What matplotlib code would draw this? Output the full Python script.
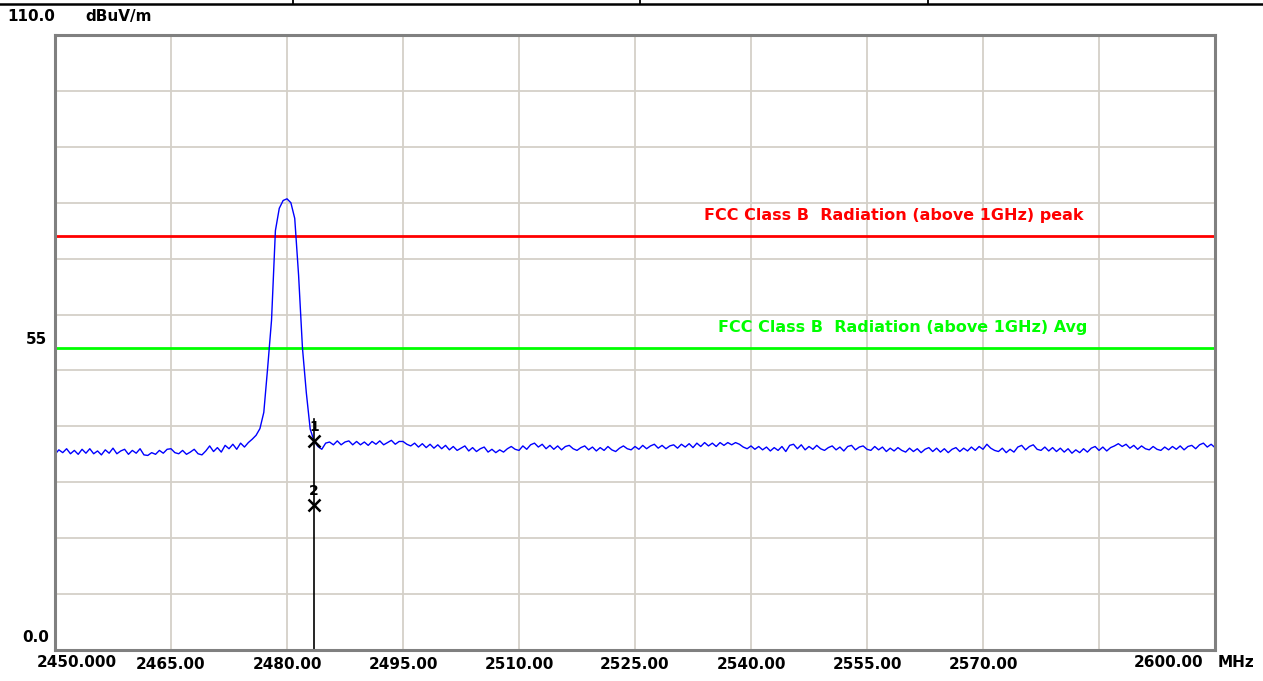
import numpy as np
import matplotlib
matplotlib.use("Agg")
import matplotlib.pyplot as plt
from matplotlib.lines import Line2D

plt.rcParams['font.family'] = ['DejaVu Sans']
plt.rcParams['font.weight'] = 'bold'

# sweep settings (MHz)
freq_start = 2450.0
freq_stop = 2600.0
freq_step = 0.5

# measured trace, dBuV/m, one value per sweep point
trace_left = [
    35.0, 35.8, 35.3, 36.0, 35.1, 35.7, 35.0, 35.9, 35.2, 36.0, 35.1, 35.6, 34.9, 35.8, 35.2, 36.1, 35.1, 35.6, 35.9, 35.0,
    35.7, 35.2, 36.0, 34.9, 34.8, 35.3, 35.0, 35.7, 35.2, 35.9, 36.0, 35.3, 35.1, 35.7, 35.0, 35.4, 35.9, 35.1, 34.9, 35.6,
    36.5, 35.5, 36.2, 35.4, 36.6, 36.0, 36.8, 35.9, 37.0, 36.3, 37.1, 37.7, 38.4,
]
trace_peak = [
    39.6, 42.5, 50.5, 59.0, 75.0, 79.0, 80.4, 80.7, 80.0, 77.2, 67.0, 54.0, 46.0, 39.5, 37.4,
]
trace_right = [
    36.4, 35.9, 37.0, 37.2, 36.7, 37.4, 36.7, 37.2, 37.4, 36.7, 37.3, 36.7,
    37.2, 36.6, 37.3, 36.8, 37.4, 36.7, 37.1, 37.5, 36.8, 37.3, 37.3, 36.8, 36.5, 37.0, 36.3, 36.9, 36.2, 36.8, 36.1, 36.7,
    36.0, 36.6, 35.8, 36.4, 35.7, 36.1, 36.5, 35.6, 36.2, 35.5, 36.0, 36.3, 35.4, 35.9, 35.3, 35.8, 35.4, 36.0, 36.4, 35.9,
    35.7, 36.5, 35.9, 36.7, 37.0, 36.3, 36.8, 36.0, 36.6, 35.9, 36.5, 35.8, 36.4, 36.6, 36.0, 35.7, 36.2, 36.5, 35.8, 36.3,
    35.6, 36.2, 35.7, 36.4, 35.8, 35.5, 36.1, 36.5, 36.0, 35.8, 36.4, 35.9, 36.6, 36.0, 36.5, 36.8, 36.1, 36.6, 36.0, 36.5,
    36.7, 36.1, 36.8, 36.3, 36.9, 36.2, 37.0, 36.4, 37.1, 36.5, 37.0, 36.4, 37.1, 36.6, 37.1, 36.7, 37.1, 36.8, 36.3, 36.0,
    36.5, 35.9, 36.4, 35.8, 36.3, 35.6, 36.2, 35.7, 36.4, 35.5, 36.6, 36.8, 36.0, 36.7, 35.8, 36.4, 35.9, 36.6, 36.0, 35.7,
    36.2, 36.5, 35.8, 36.3, 35.6, 36.4, 36.6, 35.8, 36.3, 36.5, 35.9, 35.7, 36.4, 35.8, 36.3, 35.5, 36.1, 35.6, 36.2, 35.7,
    35.4, 36.1, 35.5, 36.0, 35.3, 35.9, 36.2, 35.5, 36.1, 35.4, 36.0, 35.3, 35.9, 36.2, 35.5, 36.1, 35.6, 36.3, 35.7, 36.4,
    35.9, 36.8, 36.1, 35.7, 35.5, 36.1, 35.3, 35.9, 35.4, 36.3, 36.6, 35.8, 36.4, 36.7, 35.9, 35.7, 36.3, 35.6, 36.2, 35.5,
    36.1, 35.4, 36.0, 35.2, 35.8, 35.3, 36.0, 35.4, 36.1, 36.4, 35.7, 36.3, 35.6, 36.2, 36.5, 36.9, 36.4, 36.8, 36.1, 36.6,
    35.9, 36.5, 36.0, 35.8, 36.4, 35.9, 35.7, 36.3, 35.8, 36.4, 35.9, 36.5, 35.8, 36.4, 36.6, 36.0, 36.7, 37.0, 36.3, 36.8,
    36.2,
]

# limit lines
limit_peak = 74.0
limit_avg = 54.0
limit_peak_label = "FCC Class B  Radiation (above 1GHz) peak"
limit_avg_label = "FCC Class B  Radiation (above 1GHz) Avg"

# markers
marker_freq = [2483.5, 2483.5]
marker_level = [37.4, 25.9]
marker_names = ['1', '2']

# axis labels
y_min, y_max = 0.0, 110.0
x_ticks = [2465, 2480, 2495, 2510, 2525, 2540, 2555, 2570, 2585]
x_tick_labels = ['2465.00', '2480.00', '2495.00', '2510.00', '2525.00',
                 '2540.00', '2555.00', '2570.00', '']

freq = np.arange(freq_start, freq_stop + freq_step / 2, freq_step)
level = np.array(trace_left + trace_peak + trace_right)

W, H = 1263, 681
fig = plt.figure(figsize=(W / 100, H / 100), dpi=100)
ax = fig.add_axes([55 / W, 1 - 650 / H, 1160 / W, 615 / H])

ax.set_xlim(freq_start, freq_stop)
ax.set_ylim(y_min, y_max)
ax.set_xticks(x_ticks)
ax.set_xticklabels(x_tick_labels, fontsize=11, fontweight='bold')
ax.set_yticks(np.arange(10, 110, 10))
ax.set_yticklabels([])
ax.tick_params(length=0, pad=5)
ax.grid(True, color='#d4d0c8', lw=1.3)
ax.set_axisbelow(True)
for s in ax.spines.values():
    s.set_color('#808080')
    s.set_linewidth(2.2)

# limit lines and their captions
ax.axhline(limit_peak, color='#ff0000', lw=2.0)
ax.axhline(limit_avg, color='#00ff00', lw=2.0)
ax.text(2583.0, limit_peak + 3.8, limit_peak_label, color='#ff0000',
        fontsize=11.5, ha='right', va='center')
ax.text(2583.5, limit_avg + 3.6, limit_avg_label, color='#00ff00',
        fontsize=11.5, ha='right', va='center')

# trace
ax.plot(freq, level, color='#0000ff', lw=1.0)

# marker line and markers
ax.plot([marker_freq[0], marker_freq[0]], [y_min, marker_level[0] + 4],
        color='black', lw=1.2)
ax.plot(marker_freq, marker_level, ls='none', marker='x', ms=8, mew=1.8,
        color='black')
for f, v, n in zip(marker_freq, marker_level, marker_names):
    ax.annotate(n, (f, v), xytext=(0, 10), textcoords='offset points',
                ha='center', va='center', fontsize=10)

# axis annotations
ytr = ax.get_yaxis_transform()
ax.text(-0.041, 1.03, '110.0', transform=ax.transAxes, fontsize=11,
        ha='left', va='center')
ax.text(0.026, 1.03, 'dBuV/m', transform=ax.transAxes, fontsize=11,
        ha='left', va='center')
ax.text(-0.007, 55.5, '55', transform=ytr, fontsize=11, ha='right', va='center')
ax.text(-0.005, 2.3, '0.0', transform=ytr, fontsize=11, ha='right', va='center')
ax.text(-0.016, -0.02, '2450.000', transform=ax.transAxes, fontsize=11,
        ha='left', va='center')
ax.text(0.99, -0.02, '2600.00', transform=ax.transAxes, fontsize=11,
        ha='right', va='center')
ax.text(1.002, -0.02, 'MHz', transform=ax.transAxes, fontsize=11,
        ha='left', va='center')

# header table rule
fig.add_artist(Line2D([0, 1], [1 - 4 / H, 1 - 4 / H], transform=fig.transFigure,
                      color='black', lw=1.8))
for xp in [293, 640, 928]:
    fig.add_artist(Line2D([xp / W, xp / W], [1, 1 - 4 / H],
                          transform=fig.transFigure, color='black', lw=1.3))

fig.savefig('out.png', dpi=100, facecolor='white')
